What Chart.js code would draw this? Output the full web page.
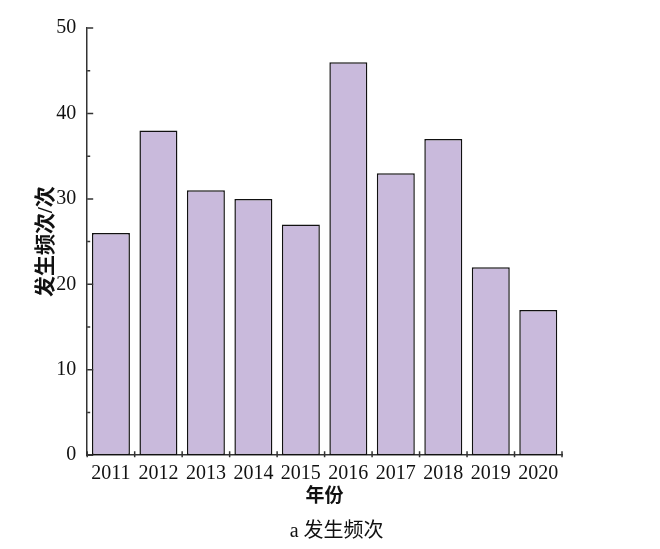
<!DOCTYPE html>
<html>
<head>
<meta charset="utf-8">
<script src="https://cdn.jsdelivr.net/npm/chart.js@4.4.0/dist/chart.umd.min.js"></script>
<style>
  body { margin: 0; background: #fff; }
  #wrap { width: 660px; height: 549px; }
</style>
</head>
<body>
<div id="wrap"><canvas id="freqChart" width="660" height="549"></canvas></div>
<script>
// data
var years = ['2011', '2012', '2013', '2014', '2015', '2016', '2017', '2018', '2019', '2020'];
var counts = [26, 38, 31, 30, 27, 46, 33, 37, 22, 17];
var yTicks = [0, 10, 20, 30, 40, 50];
var caption = 'a 发生频次';

var serif = '"Liberation Serif", "Times New Roman", "Noto Sans CJK SC", serif';
var axisColor = '#333';

// inward tick marks, drawn from the scales
var innerTicks = {
    id: 'innerTicks',
    afterDraw: function(chart) {
        var ctx = chart.ctx;
        var x = chart.scales.x, y = chart.scales.y;
        ctx.save();
        ctx.strokeStyle = axisColor;
        ctx.lineWidth = 1.5;
        ctx.beginPath();
        // y major + minor
        for (var v = 0; v <= 50; v += 5) {
            var py = y.getPixelForValue(v);
            var len = (v % 10 === 0) ? 6 : 3;
            ctx.moveTo(x.left, py);
            ctx.lineTo(x.left + len, py);
        }
        // x ticks at category boundaries
        for (var i = 0; i <= years.length; i++) {
            var px;
            if (i === 0) px = x.left;
            else if (i === years.length) px = x.right;
            else px = (x.getPixelForValue(i - 1) + x.getPixelForValue(i)) / 2;
            ctx.moveTo(px, y.bottom + 2);
            ctx.lineTo(px, y.bottom - 4);
        }
        ctx.stroke();

        // caption under the axis title
        ctx.fillStyle = '#111';
        ctx.font = '20px ' + serif;
        ctx.textAlign = 'center';
        ctx.textBaseline = 'middle';
        ctx.fillText(caption, (chart.chartArea.left + chart.chartArea.right) / 2 + 12, chart.height - 17);
        ctx.restore();
    }
};

var ctx = document.getElementById('freqChart');
new Chart(ctx, {
    type: 'bar',
    data: {
        labels: years,
        datasets: [{
            label: '发生频次',
            data: counts,
            backgroundColor: '#c9badc',
            borderColor: '#111',
            borderWidth: 1.5,
            borderSkipped: false,
            categoryPercentage: 1.0,
            barPercentage: 0.8
        }]
    },
    options: {
        responsive: false,
        animation: false,
        maintainAspectRatio: false,
        layout: { padding: { left: 34, right: 98, top: 28, bottom: 41 } },
        plugins: {
            legend: { display: false },
            tooltip: { enabled: false },
            title: { display: false }
        },
        scales: {
            x: {
                grid: { display: false },
                border: { display: true, color: axisColor, width: 1.5 },
                ticks: {
                    color: '#111',
                    font: { family: serif, size: 20 },
                    padding: -1,
                    maxRotation: 0,
                    autoSkip: false
                },
                title: {
                    display: true,
                    text: '年份',
                    color: '#111',
                    font: { family: serif, size: 19, weight: 'bold' },
                    padding: { top: 0, bottom: 0 }
                }
            },
            y: {
                min: 0,
                max: 50,
                afterBuildTicks: function(scale) {
                    scale.ticks = yTicks.map(function(v) { return { value: v }; });
                },
                grid: { display: false },
                border: { display: true, color: axisColor, width: 1.5 },
                ticks: {
                    color: '#111',
                    font: { family: serif, size: 20 },
                    padding: 3
                },
                title: {
                    display: true,
                    text: '发生频次/次',
                    color: '#111',
                    font: { family: serif, size: 21, weight: 'bold' },
                    padding: { top: 0, bottom: -6 }
                }
            }
        }
    },
    plugins: [innerTicks]
});
</script>
</body>
</html>
